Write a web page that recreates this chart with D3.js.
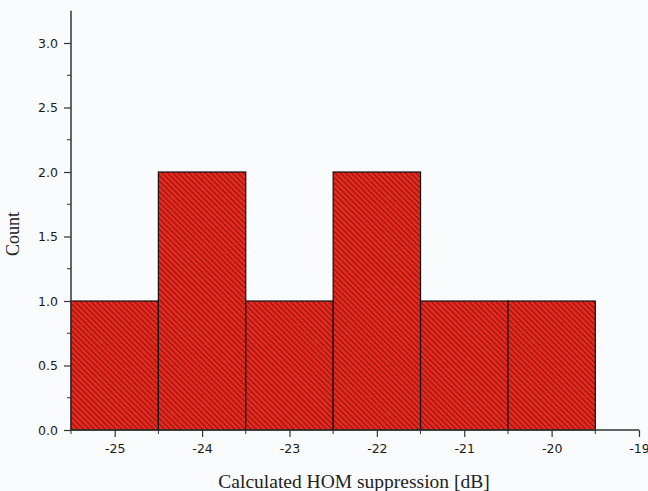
<!DOCTYPE html>
<html>
<head>
<meta charset="utf-8">
<script src="https://cdn.jsdelivr.net/npm/d3@7"></script>
<style>
  html, body { margin: 0; padding: 0; background: #fafbfd; }
  svg { display: block; }
</style>
</head>
<body>
<svg id="chart" width="648" height="491"></svg>
<script>
// ---- data ----
const binStarts = [-25.5, -24.5, -23.5, -22.5, -21.5, -20.5];
const binWidth = 1;
const counts = [1, 2, 1, 2, 1, 1];
const xTickValues = [-25, -24, -23, -22, -21, -20, -19];
const xMinorTicks = [-25.5, -24.5, -23.5, -22.5, -21.5, -20.5, -19.5];
const yTickValues = [0, 0.5, 1.0, 1.5, 2.0, 2.5, 3.0];
const yMinorTicks = [0.25, 0.75, 1.25, 1.75, 2.25, 2.75];
const xTitle = "Calculated HOM suppression [dB]";
const yTitle = "Count";

const svg = d3.select("#chart");
const W = 648, H = 491;
svg.append("rect").attr("width", W).attr("height", H).attr("fill", "#fafbfd");

const x = d3.scaleLinear().domain([-25.5, -19]).range([71, 639]);
const y = d3.scaleLinear().domain([0, 3.25]).range([430, 10.75]);

// hatch pattern
const defs = svg.append("defs");
const P = 5.4;
const pat = defs.append("pattern")
  .attr("id", "hatch").attr("patternUnits", "userSpaceOnUse")
  .attr("width", P).attr("height", P);
pat.append("rect").attr("width", P).attr("height", P).attr("fill", "#e8271d");
pat.append("path")
  .attr("d", `M-1,-1 L${P + 1},${P + 1} M-1,${P - 1} L1,${P + 1} M${P - 1},-1 L${P + 1},1`)
  .attr("stroke", "#1a0806").attr("stroke-width", 0.7);

// bars
svg.append("g").selectAll("rect.bar")
  .data(binStarts.map((s, i) => ({ s, c: counts[i] })))
  .join("rect")
  .attr("class", "bar")
  .attr("x", d => x(d.s))
  .attr("width", d => x(d.s + binWidth) - x(d.s))
  .attr("y", d => y(d.c))
  .attr("height", d => y(0) - y(d.c))
  .attr("fill", "url(#hatch)")
  .attr("stroke", "#111")
  .attr("stroke-width", 1.2);

const axisColor = "#333";
const hyphen = f => d => f(d).replace("\u2212", "-");

// y axis
const yAxis = svg.append("g").attr("transform", `translate(${x(-25.5)},0)`)
  .call(d3.axisLeft(y).tickValues(yTickValues).tickFormat(d3.format(".1f")).tickSize(7).tickPadding(6));
yAxis.append("g").selectAll("line").data(yMinorTicks).join("line")
  .attr("x1", 0).attr("x2", -4).attr("y1", d => y(d)).attr("y2", d => y(d))
  .attr("stroke", axisColor);

// x axis
const xAxis = svg.append("g").attr("transform", `translate(0,${y(0)})`)
  .call(d3.axisBottom(x).tickValues(xTickValues).tickFormat(hyphen(d3.format("d"))).tickSize(7).tickPadding(7));
xAxis.append("g").selectAll("line").data(xMinorTicks).join("line")
  .attr("y1", 0).attr("y2", 4).attr("x1", d => x(d)).attr("x2", d => x(d))
  .attr("stroke", axisColor);

[yAxis, xAxis].forEach(g => {
  g.select(".domain").attr("stroke", axisColor).attr("stroke-width", 1.5);
  g.selectAll(".tick line").attr("stroke", axisColor).attr("stroke-width", 1.2);
  g.selectAll(".tick text").attr("fill", "#1a1a1a")
    .style("font-family", "'DejaVu Sans', Verdana, sans-serif").style("font-size", "12.5px");
});
yAxis.select(".domain").attr("d", `M0,${y(0)}V${y(3.25)}`);
xAxis.select(".domain").attr("d", `M${x(-25.5)},0H${x(-19)}`);

// titles
svg.append("text")
  .attr("x", 354).attr("y", 488)
  .attr("text-anchor", "middle")
  .style("font-family", "'Liberation Serif', 'Times New Roman', serif")
  .style("font-size", "19.5px").attr("fill", "#222")
  .text(xTitle);

svg.append("text")
  .attr("transform", "translate(19,234) rotate(-90)")
  .attr("text-anchor", "middle")
  .style("font-family", "'Liberation Serif', 'Times New Roman', serif")
  .style("font-size", "18px").attr("fill", "#222")
  .text(yTitle);
</script>
</body>
</html>
